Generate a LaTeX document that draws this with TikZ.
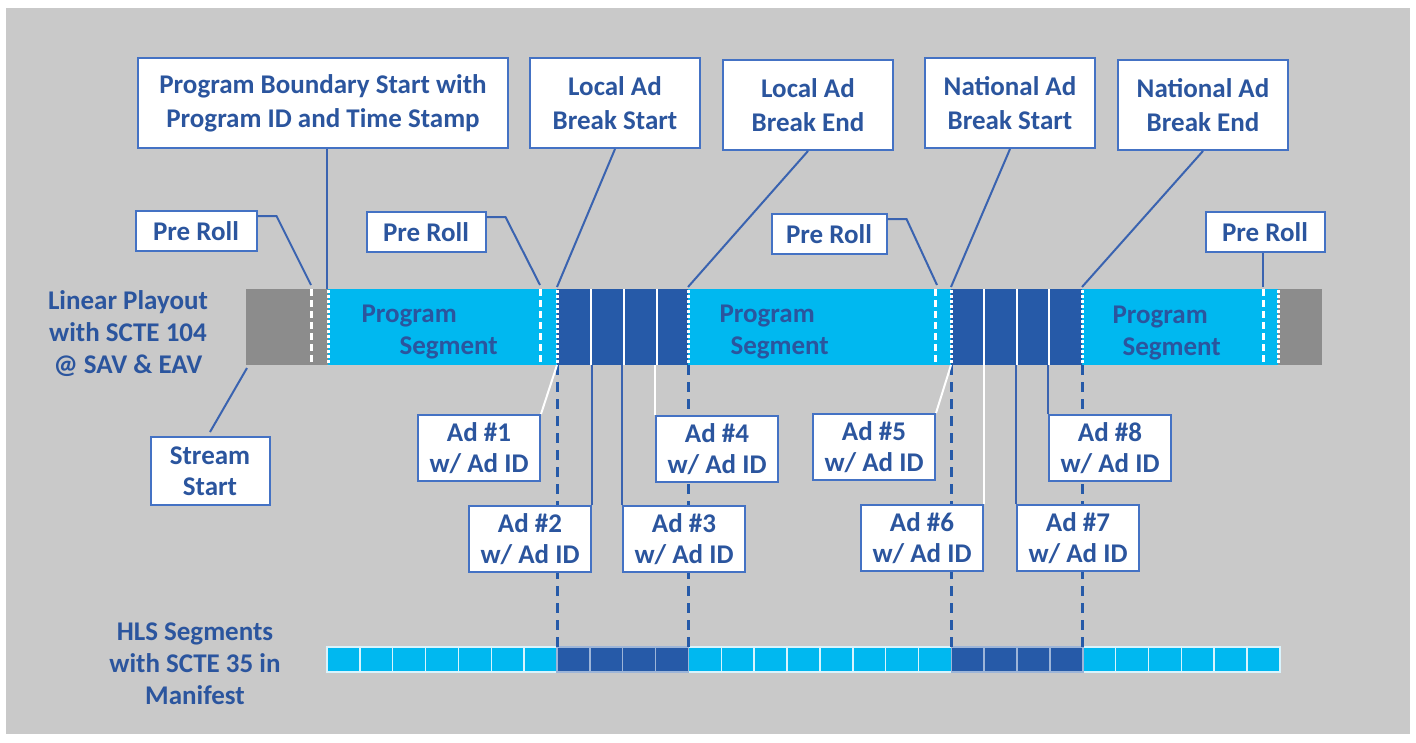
\documentclass[tikz,border=0pt]{standalone}
\usepackage{fontspec}
\setmainfont{Carlito}
\definecolor{bggray}{HTML}{C9C9C9}
\definecolor{bargray}{HTML}{8C8C8C}
\definecolor{lightblue}{HTML}{00B8F0}
\definecolor{darkblue}{HTML}{265AA8}
\definecolor{txtblue}{HTML}{2B559E}
\definecolor{boxblue}{HTML}{4472C4}
\definecolor{lnblue}{HTML}{3A63B0}

\begin{document}
\begin{tikzpicture}[x=1pt, y=-1pt,
  every node/.style={font=\bfseries\fontsize{27}{32}\selectfont, text=txtblue},
  box/.style={draw=boxblue, line width=2pt, fill=white, align=center, inner sep=0pt},
  topbox/.style={box, minimum width=170pt, minimum height=90pt, font=\bfseries\fontsize{27}{34}\selectfont},
  rollbox/.style={box, minimum width=119pt, minimum height=40pt},
  adbox/.style={box, minimum width=122pt, minimum height=66pt, font=\bfseries\fontsize{27}{31}\selectfont},
  link/.style={draw=lnblue, line width=2pt},
  wlink/.style={draw=white, line width=2pt},
  prcut/.style={white, line width=3pt, dash pattern=on 7pt off 4pt},
  segedge/.style={white, line width=3pt, dash pattern=on 2.5pt off 2.5pt},
  brk/.style={draw=darkblue, line width=3pt, dash pattern=on 10pt off 7pt},
  hlsseg/.style={fill=lightblue, draw=white!85!lightblue, line width=1.5pt},
  hlsad/.style={fill=darkblue, draw=white!55!darkblue, line width=1.5pt}]
\useasboundingbox (0,0) rectangle (1416,742);
\fill[white] (0,0) rectangle (1416,742);
\fill[bggray] (6,8) rectangle (1410,734);

% linear playout bar
\fill[bargray] (246,289) rectangle (328,365);
\fill[lightblue] (328,289) rectangle (557,365);
\fill[darkblue] (557,289) rectangle (688,365);
\fill[lightblue] (688,289) rectangle (951,365);
\fill[darkblue] (951,289) rectangle (1082,365);
\fill[lightblue] (1082,289) rectangle (1278,365);
\fill[bargray] (1278,289) rectangle (1322,365);
\foreach \x in {591,624,657,984,1017,1049}
  \draw[white, line width=1.8pt] (\x,289) -- (\x,365);
\foreach \x in {311,540,935,1263}
  \draw[prcut] (\x,289) -- (\x,365);
\foreach \x in {328,557,688,951,1082,1278}
  \draw[segedge] (\x,290) -- (\x,365);

% hls segments
\foreach \i in {0,...,28}
  \draw[hlsseg] ({327+\i*32.86},647) rectangle ++(32.86,25);
\foreach \i in {7,8,9,10,19,20,21,22}
  \draw[hlsad] ({327+\i*32.86},647) rectangle ++(32.86,25);

\coordinate (pgt) at (327,289);
\coordinate (lst) at (557,287);
\coordinate (let) at (688,287);
\coordinate (nst) at (951,287);
\coordinate (net) at (1082,287);
\coordinate (pr1t) at (311,285);
\coordinate (pr2t) at (540,285);
\coordinate (pr3t) at (937,285);
\coordinate (pr4t) at (1263,287);
\coordinate (ssb) at (247,368);
\coordinate (lsb) at (557,365);
\coordinate (leb) at (688,365);
\coordinate (nsb) at (951,365);
\coordinate (neb) at (1082,365);
\coordinate (hlstop) at (0,647);

\foreach \c in {lsb,leb,nsb,neb}
  \draw[brk] (\c) -- (\c |- hlstop);

\node[align=center] (lp) at (128,334) {Linear Playout\\with SCTE 104\\@ SAV \& EAV};
\node[align=center] (hls) at (195,664) {HLS Segments\\with SCTE 35 in\\Manifest};
\node[align=left, anchor=west] (sg1) at (358,332) {Program\\\hspace*{38pt}Segment};
\node[align=left, anchor=west] (sg2) at (716,332) {Program\\\hspace*{11pt}Segment};
\node[align=left, anchor=west] (sg3) at (1109,333) {Program\\\hspace*{10pt}Segment};

\node[topbox, minimum width=370pt] (pb) at (323,103) {Program Boundary Start with\\Program ID and Time Stamp};
\node[topbox] (lbs) at (615,103) {Local Ad\\Break Start};
\node[topbox] (lbe) at (808,105) {Local Ad\\Break End};
\node[topbox] (nbs) at (1010,103) {National Ad\\Break Start};
\node[topbox] (nbe) at (1203,105) {National Ad\\Break End};

\node[rollbox, minimum width=121pt] (pr1) at (196,231) {Pre Roll};
\node[rollbox] (pr2) at (426,232) {Pre Roll};
\node[rollbox, minimum width=115pt] (pr3) at (829,234) {Pre Roll};
\node[rollbox] (pr4) at (1265,232) {Pre Roll};

\node[adbox, minimum width=119pt, minimum height=68pt] (ss) at (210,471) {Stream\\Start};
\node[adbox] (ad1) at (479,448) {Ad \#1\\w/ Ad ID};
\node[adbox] (ad2) at (530,539) {Ad \#2\\w/ Ad ID};
\node[adbox] (ad3) at (684,539) {Ad \#3\\w/ Ad ID};
\node[adbox] (ad4) at (717,449) {Ad \#4\\w/ Ad ID};
\node[adbox] (ad5) at (874,447) {Ad \#5\\w/ Ad ID};
\node[adbox] (ad6) at (922,538) {Ad \#6\\w/ Ad ID};
\node[adbox] (ad7) at (1078,538) {Ad \#7\\w/ Ad ID};
\node[adbox] (ad8) at (1110,448) {Ad \#8\\w/ Ad ID};

\draw[link] (pgt |- pb.south) -- (pgt);
\draw[link] (lbs.south) -- (lst);
\draw[link] (lbe.south) -- (let);
\draw[link] (nbs.south) -- (nst);
\draw[link] (nbe.south) -- (net);
\draw[link] ([yshift=-6pt]pr1.north east) -- ++(19,0) -- (pr1t);
\draw[link] ([yshift=-6pt]pr2.north east) -- ++(19,0) -- (pr2t);
\draw[link] ([yshift=-6pt]pr3.north east) -- ++(19,0) -- (pr3t);
\draw[link] (pr4t |- pr4.south) -- (pr4t);
\draw[link] (ssb) -- ([yshift=4pt]ss.north);

\draw[wlink] (ad1.north east) -- (lsb);
\draw[link] (ad2.north east) -- (ad2.north east |- lsb);
\draw[link] (ad3.north west) -- (ad3.north west |- lsb);
\draw[wlink] (ad4.north west) -- (ad4.north west |- lsb);
\draw[wlink] (ad5.north east) -- (nsb);
\draw[wlink] (ad6.north east) -- (ad6.north east |- nsb);
\draw[link] (ad7.north west) -- (ad7.north west |- nsb);
\draw[link] (ad8.north west) -- (ad8.north west |- nsb);
\end{tikzpicture}
\end{document}
